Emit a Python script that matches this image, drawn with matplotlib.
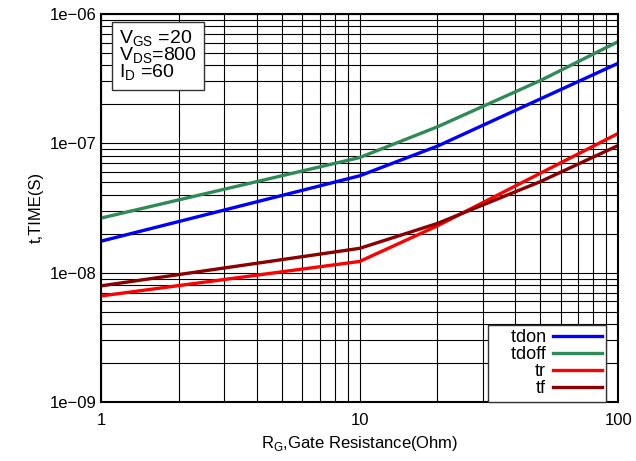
import matplotlib
matplotlib.use("Agg")
import matplotlib.pyplot as plt
from matplotlib.ticker import LogLocator, NullFormatter

plt.rcParams['font.family'] = ['Liberation Sans', 'DejaVu Sans']

rg_on = [1, 10, 20, 50, 100]
tdon = [1.75e-8, 5.6e-8, 9.5e-8, 2.2e-7, 4.15e-7]
rg_off = [1, 10, 20, 50, 100]
tdoff = [2.64e-8, 7.75e-8, 1.34e-7, 3.05e-7, 6.1e-7]
rg_r = [1, 10, 20, 100]
tr = [6.6e-9, 1.22e-8, 2.3e-8, 1.19e-7]
rg_f = [1, 10, 20, 50, 100]
tf = [7.9e-9, 1.54e-8, 2.4e-8, 5.05e-8, 9.6e-8]
labels = ['tdon', 'tdoff', 'tr', 'tf']

fig = plt.figure(figsize=(6.36, 4.61), dpi=100)
ax = fig.add_axes([0.159, 0.128, 0.813, 0.842])
ax.set_xscale('log')
ax.set_yscale('log')
ax.set_xlim(1, 100)
ax.set_ylim(1e-9, 1e-6)

ax.grid(True, which='both', color='black', linewidth=0.8)
ax.set_axisbelow(True)

ax.plot(rg_on, tdon, color='#0000ff', lw=2.4, label='\u2002\u2002' + labels[0])
ax.plot(rg_off, tdoff, color='#2e8b57', lw=2.4, label='\u2002\u2002' + labels[1])
ax.plot(rg_r, tr, color='#ff0000', lw=2.4, label=labels[2])
ax.plot(rg_f, tf, color='#8b0000', lw=2.4, label=labels[3])

ax.set_xticks([1, 10, 100])
ax.set_xticklabels(['1', '10', '100'])
ax.set_yticks([1e-9, 1e-8, 1e-7, 1e-6])
ax.set_yticklabels(['1e\u221209', '1e\u221208', '1e\u221207', '1e\u221206'])
ax.xaxis.set_minor_locator(LogLocator(base=10, subs=range(2, 10)))
ax.yaxis.set_minor_locator(LogLocator(base=10, subs=range(2, 10)))
ax.xaxis.set_minor_formatter(NullFormatter())
ax.yaxis.set_minor_formatter(NullFormatter())
ax.tick_params(which='both', length=0, labelsize=12)
ax.tick_params(axis='x', pad=8)
for s in ax.spines.values():
    s.set_linewidth(1.5)

ax.set_xlabel('R$_\\mathregular{G}$,Gate Resistance(Ohm)', fontsize=12)
ax.set_ylabel('t,TIME(S)', fontsize=12)

ax.text(0.035, 0.962,
        'V$_\\mathregular{GS}$ =20\nV$_\\mathregular{DS}$=800\nI$_\\mathregular{D}$ =60',
        transform=ax.transAxes, fontsize=14, va='top', ha='left', linespacing=0.8,
        bbox=dict(boxstyle='square,pad=0.35', facecolor='white', edgecolor='#333333', lw=1))

leg = ax.legend(loc='lower right', bbox_to_anchor=(0.977, 0.0), markerfirst=False,
                fontsize=13, frameon=True,
                fancybox=False, edgecolor='#333333', framealpha=1, borderaxespad=0.0,
                handlelength=2.7, handletextpad=0.4, labelspacing=0.0, borderpad=0.25)
leg.get_frame().set_linewidth(1)
for t in leg.get_texts():
    t.set_ha('right')

fig.savefig('out.png', dpi=100)
